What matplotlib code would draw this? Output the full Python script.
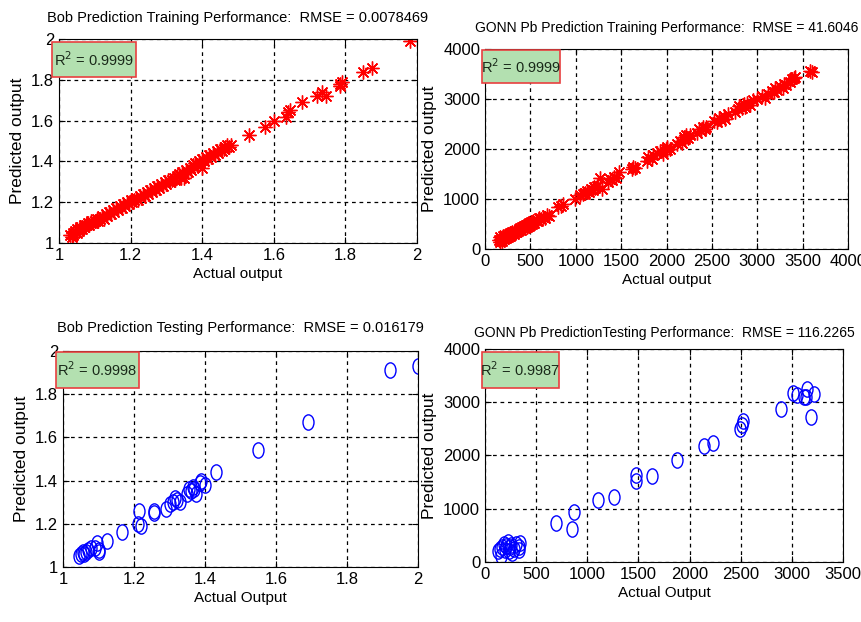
import matplotlib
matplotlib.use("Agg")
import matplotlib.pyplot as plt
from matplotlib.path import Path
from matplotlib.patches import Rectangle
from matplotlib.transforms import Affine2D

plt.rcParams['font.family'] = ['Liberation Sans', 'DejaVu Sans']

# ---- Bob training ----
bob_tr_act = [1.03, 1.035, 1.04, 1.04, 1.045, 1.05, 1.05, 1.055, 1.06, 1.06, 1.065, 1.07, 1.07, 1.075,
              1.08, 1.085, 1.09, 1.09, 1.095, 1.10, 1.105, 1.11, 1.115, 1.12, 1.125, 1.13, 1.135, 1.14,
              1.145, 1.15, 1.155, 1.16, 1.165, 1.17, 1.175, 1.18, 1.185, 1.19, 1.195, 1.20, 1.205, 1.21,
              1.215, 1.22, 1.225, 1.23, 1.235, 1.24, 1.245, 1.25, 1.255, 1.26, 1.265, 1.27, 1.275, 1.28,
              1.285, 1.29, 1.295, 1.30, 1.305, 1.31, 1.315, 1.32, 1.325, 1.33, 1.335, 1.34, 1.345, 1.35,
              1.35, 1.355, 1.36, 1.365, 1.37, 1.375, 1.38, 1.385, 1.39, 1.395, 1.40, 1.40, 1.405, 1.41,
              1.415, 1.42, 1.425, 1.43, 1.435, 1.44, 1.445, 1.45, 1.455, 1.46, 1.465, 1.47, 1.475, 1.48,
              1.53, 1.575, 1.60, 1.635, 1.64, 1.645, 1.68, 1.72, 1.735, 1.745, 1.785, 1.79, 1.785,
              1.85, 1.875, 1.98]
bob_tr_pred = [1.04, 1.03, 1.05, 1.04, 1.06, 1.05, 1.07, 1.06, 1.07, 1.08, 1.07, 1.09, 1.08, 1.09,
               1.10, 1.09, 1.10, 1.11, 1.10, 1.11, 1.12, 1.11, 1.12, 1.13, 1.12, 1.14, 1.13, 1.15,
               1.14, 1.16, 1.15, 1.17, 1.16, 1.18, 1.17, 1.19, 1.18, 1.20, 1.19, 1.21, 1.20, 1.21,
               1.22, 1.21, 1.23, 1.22, 1.24, 1.23, 1.25, 1.24, 1.26, 1.25, 1.27, 1.26, 1.28, 1.27,
               1.29, 1.28, 1.30, 1.29, 1.31, 1.30, 1.31, 1.32, 1.31, 1.33, 1.34, 1.32, 1.35, 1.34,
               1.32, 1.36, 1.35, 1.37, 1.36, 1.38, 1.39, 1.38, 1.40, 1.39, 1.41, 1.37, 1.40, 1.42,
               1.41, 1.43, 1.42, 1.44, 1.43, 1.45, 1.44, 1.46, 1.45, 1.46, 1.47, 1.48, 1.47, 1.48,
               1.53, 1.57, 1.60, 1.62, 1.64, 1.65, 1.69, 1.72, 1.74, 1.72, 1.77, 1.79, 1.78,
               1.84, 1.86, 1.99]

# ---- GONN Pb training ----
pb_tr_act = [150, 160, 170, 180, 190, 200, 210, 220, 230, 240, 250, 260, 270, 280, 290, 300, 320, 330,
             340, 360, 370, 380, 390, 400, 410, 420, 430, 440, 450, 460, 470, 480, 490, 500, 510, 520,
             530, 540, 560, 580, 600, 620, 640, 660, 680, 700, 800, 840, 860, 990, 1050, 1080, 1100,
             1120, 1150, 1170, 1190, 1200, 1210, 1230, 1270, 1290, 1360, 1380, 1400, 1420, 1440, 1480,
             1620, 1630, 1650, 1780, 1800, 1840, 1850, 1900, 1930, 1960, 1990, 2000, 2010, 2040,
             2120, 2150, 2170, 2190, 2200, 2220, 2240, 2260, 2340, 2360, 2380, 2400, 2420, 2440,
             2520, 2560, 2580, 2600, 2630, 2650, 2680, 2760, 2790, 2800, 2830, 2850, 2870, 2890,
             2920, 2950, 3000, 3050, 3080, 3120, 3160, 3190, 3200, 3220, 3250, 3280, 3300, 3320,
             3360, 3380, 3400, 3420, 3580, 3600]
pb_tr_pred = [180, 140, 230, 190, 150, 250, 200, 260, 220, 280, 240, 300, 260, 320, 280, 330, 300, 360,
              330, 350, 400, 370, 420, 380, 440, 410, 450, 420, 470, 440, 490, 460, 510, 480, 530, 500,
              550, 520, 570, 560, 620, 590, 640, 610, 680, 650, 840, 860, 900, 1000, 1080, 1100, 1120,
              1150, 1140, 1200, 1170, 1240, 1210, 1260, 1410, 1190, 1340, 1400, 1380, 1440, 1410, 1540,
              1590, 1640, 1610, 1760, 1830, 1800, 1880, 1920, 1960, 1900, 2000, 1970, 2040, 2010,
              2100, 2170, 2130, 2250, 2200, 2280, 2230, 2290, 2330, 2400, 2360, 2440, 2400, 2450,
              2570, 2540, 2620, 2580, 2660, 2610, 2700, 2740, 2800, 2860, 2820, 2900, 2850, 2930,
              2880, 2980, 3000, 3060, 3030, 3100, 3160, 3150, 3220, 3180, 3260, 3230, 3310, 3280,
              3350, 3400, 3420, 3440, 3560, 3540]

# ---- Bob testing ----
bob_te_act = [1.045, 1.05, 1.055, 1.06, 1.065, 1.07, 1.08, 1.09, 1.095, 1.10, 1.10, 1.125, 1.165,
              1.21, 1.215, 1.22, 1.255, 1.255, 1.29, 1.30, 1.31, 1.315, 1.32, 1.33, 1.35, 1.355, 1.36,
              1.365, 1.37, 1.375, 1.385, 1.39, 1.40, 1.43, 1.55, 1.69, 1.92, 2.0]
bob_te_pred = [1.05, 1.06, 1.07, 1.06, 1.07, 1.08, 1.09, 1.09, 1.11, 1.08, 1.07, 1.12, 1.16,
               1.20, 1.26, 1.19, 1.25, 1.26, 1.27, 1.29, 1.30, 1.32, 1.31, 1.30, 1.34, 1.36, 1.35,
               1.37, 1.36, 1.34, 1.39, 1.40, 1.38, 1.44, 1.54, 1.67, 1.91, 1.93]

# ---- GONN Pb testing ----
pb_te_act = [130, 150, 160, 170, 190, 200, 210, 220, 230, 240, 250, 260, 280, 300, 330, 340, 330,
             690, 850, 870, 1100, 1260, 1480, 1480, 1630, 1880, 2140, 2230, 2490, 2510, 2520,
             2890, 3010, 3050, 3120, 3150, 3140, 3190, 3220]
pb_te_pred = [200, 250, 120, 280, 330, 230, 300, 370, 200, 280, 320, 160, 250, 330, 220, 360, 280,
              730, 620, 940, 1160, 1220, 1640, 1520, 1610, 1910, 2180, 2230, 2500, 2580, 2650,
              2880, 3180, 3130, 3100, 3250, 3090, 2720, 3150]

titles = ["Bob Prediction Training Performance:  RMSE = 0.0078469",
          "GONN Pb Prediction Training Performance:  RMSE = 41.6046",
          "Bob Prediction Testing Performance:  RMSE = 0.016179",
          "GONN Pb PredictionTesting Performance:  RMSE = 116.2265"]
r2_labels = ["0.9999", "0.9999", "0.9998", "0.9987"]
xlabels = ["Actual output", "Actual output", "Actual Output", "Actual Output"]

fig = plt.figure(figsize=(8.61, 6.22), dpi=100)
axes = [fig.add_axes([0.0685, 0.6093, 0.4158, 0.328]),
        fig.add_axes([0.5633, 0.5997, 0.4216, 0.3215]),
        fig.add_axes([0.0732, 0.0884, 0.4123, 0.3473]),
        fig.add_axes([0.5633, 0.0965, 0.4158, 0.3424])]

star = (8, 2, 0)
oval = Affine2D().scale(0.72, 1.0).transform_path(Path.unit_circle())

axes[0].plot(bob_tr_act, bob_tr_pred, linestyle="none", marker=star, color="red", ms=10, mew=1)
axes[1].plot(pb_tr_act, pb_tr_pred, linestyle="none", marker=star, color="red", ms=10, mew=1)
axes[2].plot(bob_te_act, bob_te_pred, linestyle="none", marker=oval, mfc="none", mec="blue", ms=11, mew=1)
axes[3].plot(pb_te_act, pb_te_pred, linestyle="none", marker=oval, mfc="none", mec="blue", ms=11, mew=1)

limits = [((1, 2), (1, 2)), ((0, 4000), (0, 4000)), ((1, 2), (1, 2)), ((0, 3500), (0, 4000))]
xticks = [[1, 1.2, 1.4, 1.6, 1.8, 2], list(range(0, 4001, 500)),
          [1, 1.2, 1.4, 1.6, 1.8, 2], list(range(0, 3501, 500))]
yticks = [[1, 1.2, 1.4, 1.6, 1.8, 2], list(range(0, 4001, 1000)),
          [1, 1.2, 1.4, 1.6, 1.8, 2], list(range(0, 4001, 1000))]
# R^2 box: x0, y0, width, height in axes fractions
boxes = [(-0.0196, 0.814, 0.2346, 0.1716), (-0.008, 0.83, 0.215, 0.165),
         (-0.0197, 0.829, 0.234, 0.167), (-0.008, 0.817, 0.215, 0.169)]
title_pad = [12, 12, 14, 9]
title_size = [10.5, 10, 10.5, 10]

for i, ax in enumerate(axes):
    ax.set_xlim(limits[i][0])
    ax.set_ylim(limits[i][1])
    ax.set_xticks(xticks[i])
    ax.set_yticks(yticks[i])
    ax.set_xticklabels([("%g" % t) for t in xticks[i]])
    ax.set_yticklabels([("%g" % t) for t in yticks[i]])
    ax.tick_params(direction="in", top=True, right=True, labelsize=12, length=4)
    ax.grid(True, color="black", linestyle=(0, (3, 3)), linewidth=0.9)
    ax.set_axisbelow(True)
    ax.set_title(titles[i], fontsize=title_size[i], pad=title_pad[i])
    ax.set_xlabel(xlabels[i], fontsize=11, labelpad=3)
    ax.set_ylabel("Predicted output", fontsize=12.5, labelpad=4)
    x0, y0, w, h = boxes[i]
    ax.add_patch(Rectangle((x0, y0), w, h, transform=ax.transAxes, fc="#b3e0b0", ec="#e84040",
                           lw=1.2, clip_on=False, zorder=5))
    ax.text(x0 + w / 2, y0 + h / 2, "R$^2$ = " + r2_labels[i], transform=ax.transAxes,
            ha="center", va="center", fontsize=10.5, color="#1a2a1a", zorder=6)

fig.savefig("out.png", dpi=100)
